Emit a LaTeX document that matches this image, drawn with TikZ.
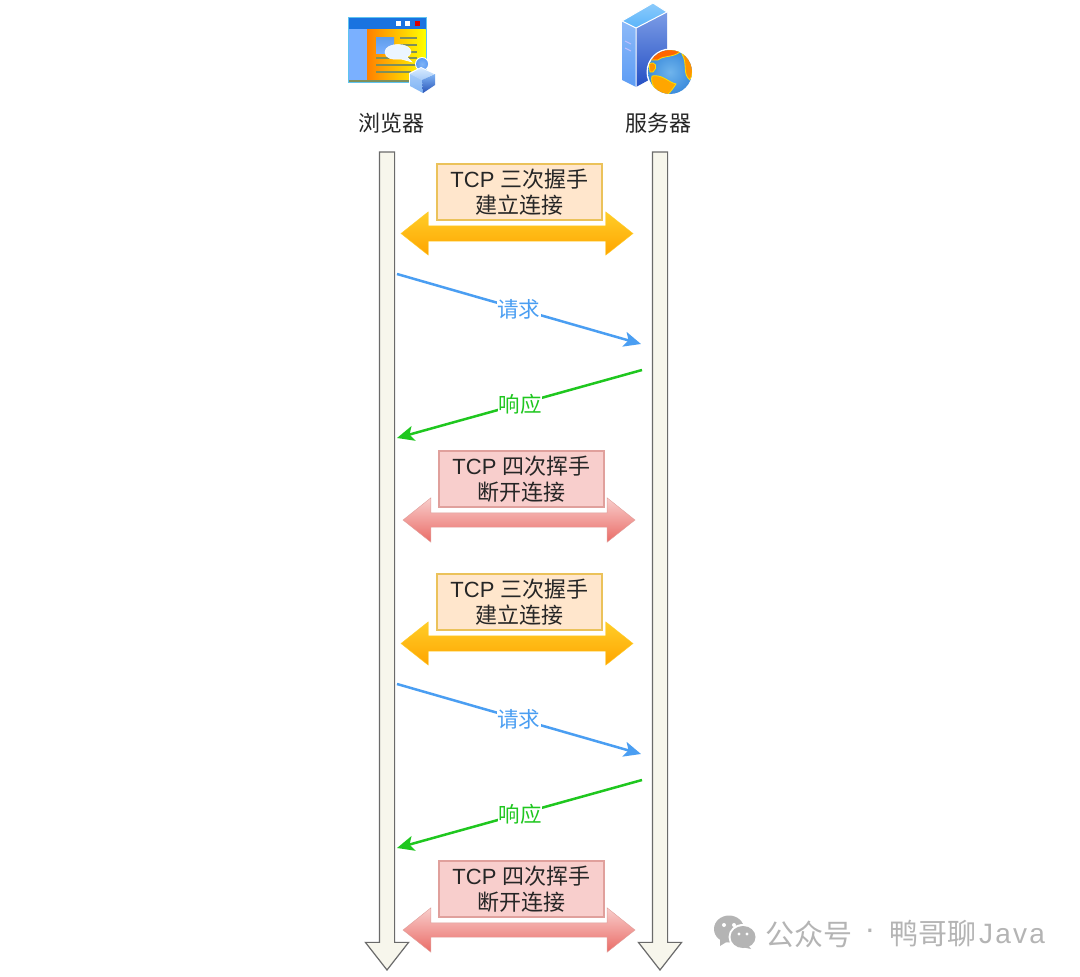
\documentclass[tikz,border=0pt]{standalone}
\usepackage{fontspec}
\setmainfont{Liberation Sans}
\newfontfamily\cjk{Noto Sans CJK SC}
\usetikzlibrary{arrows.meta,shapes.arrows}

\definecolor{lifefill}{HTML}{F7F6EC}
\definecolor{lifeline}{HTML}{6A6A6A}
\definecolor{reqblue}{HTML}{4A9EF2}
\definecolor{respgreen}{HTML}{1FC71F}
\definecolor{openfill}{HTML}{FFE6CC}
\definecolor{opendraw}{HTML}{EBC25A}
\definecolor{opentop}{HTML}{FFCD28}
\definecolor{openbot}{HTML}{FFA500}
\definecolor{closefill}{HTML}{F8CECC}
\definecolor{closedraw}{HTML}{E0A09C}
\definecolor{closebot}{HTML}{EA6B66}
\definecolor{markgray}{HTML}{B4B4B4}
\definecolor{inktext}{HTML}{262626}
\definecolor{iconsky}{HTML}{5FC4F0}
\definecolor{icontitle}{HTML}{1A73E0}
\definecolor{iconpanel}{HTML}{7AB0FF}
\definecolor{iconline}{HTML}{7F8F5A}
\definecolor{cubelight}{HTML}{D6EAFF}
\definecolor{cubemid}{HTML}{7FB4F5}
\definecolor{cubedark}{HTML}{2A55B8}
\definecolor{towertop}{HTML}{5AB4FA}
\definecolor{towerside}{HTML}{5C9CF5}
\definecolor{towerfront}{HTML}{7C9CE6}
\definecolor{towerdeep}{HTML}{2450C4}
\definecolor{globesea}{HTML}{6FB4EC}
\definecolor{globedeep}{HTML}{3C8CDC}

\tikzset{
  lifearrow/.style={single arrow,draw=lifeline,fill=lifefill,line width=1.2pt,shape border rotate=270,
    minimum width=42pt,minimum height=818pt,single arrow head extend=14pt,
    single arrow tip angle=76,inner sep=7pt,outer sep=0pt},
  openarrow/.style={double arrow,draw=opentop,top color=opentop,bottom color=openbot,
    minimum width=43pt,minimum height=232pt,double arrow head extend=14pt,
    double arrow tip angle=77,inner sep=7.5pt,outer sep=0pt},
  closearrow/.style={double arrow,draw=closedraw,top color=closefill,bottom color=closebot,
    minimum width=44pt,minimum height=232pt,double arrow head extend=15pt,
    double arrow tip angle=77,inner sep=7pt,outer sep=0pt},
  openbox/.style={draw=opendraw,fill=openfill,line width=1.5pt,minimum width=165pt,minimum height=56pt,
    align=center,inner sep=0pt,text=inktext,font=\fontsize{22}{26}\selectfont},
  closebox/.style={draw=closedraw,fill=closefill,line width=1.5pt,minimum width=165pt,minimum height=56pt,
    align=center,inner sep=0pt,text=inktext,font=\fontsize{22}{26}\selectfont},
  reqline/.style={-{Stealth[length=17pt,width=15pt,inset=4pt]},draw=reqblue,line width=2.5pt},
  respline/.style={-{Stealth[length=17pt,width=15pt,inset=4pt]},draw=respgreen,line width=2.5pt},
  reqlabel/.style={fill=white,text=reqblue,inner sep=0.5pt,font=\fontsize{21.5}{24}\selectfont\cjk},
  resplabel/.style={fill=white,text=respgreen,inner sep=0.5pt,font=\fontsize{21.5}{24}\selectfont\cjk},
  sidelabel/.style={text=inktext,font=\fontsize{22}{26}\selectfont\cjk}
}

\begin{document}
\begin{tikzpicture}[x=1pt,y=-1pt]
  \useasboundingbox[fill=white] (0,0) rectangle (1080,977);

  % browser icon
  \fill[iconsky] (347.5,16.5) rectangle (426.5,83);
  \fill[icontitle] (348.5,17.5) rectangle (425.5,29);
  \fill[white] (395.5,20.5) rectangle (400.5,25.5);
  \fill[white] (405,20.5) rectangle (410,25.5);
  \fill[red!85!black] (414.5,20.5) rectangle (419.5,25.5);
  \fill[iconpanel] (348.5,29) rectangle (367,80);
  \shade[left color=orange,right color=yellow] (367,29) rectangle (425.5,80);
  \fill[iconline] (348.5,80) rectangle (425.5,82);
  \shade[top color=icontitle!70,bottom color=iconpanel] (376,37) rectangle (394,53);
  \draw[iconline,line width=1.3pt]
    (400,38) -- (417,38) (400,45) -- (417,45) (404,52) -- (417,52)
    (376,58) -- (417,58) (376,65) -- (417,65) (376,72) -- (411,72);
  \fill[cubelight!50!white,draw=white,line width=0.5pt] (385,52) .. controls (385,42) and (411,42) .. (411,52)
    .. controls (411,54) and (409,56) .. (407,57) -- (412,62) -- (401,59)
    .. controls (391,60) and (385,58) .. (385,52) -- cycle;
  \fill[white] (422,64) circle (7);
  \shade[inner color=cubemid,outer color=towerside] (422,64) circle (6);
  \fill[white] (421,67) -- (436,74) -- (436,86) -- (423,94) -- (409,87) -- (409,73) -- cycle;
  \shade[top color=cubelight,bottom color=cubemid!70] (421,68) -- (434,74) -- (422,80) -- (410,74) -- cycle;
  \shade[top color=cubemid!70,bottom color=cubemid] (410,74) -- (422,80) -- (423,93) -- (410,86) -- cycle;
  \shade[top color=cubemid,bottom color=cubedark] (422,80) -- (435,74) -- (435,85) -- (423,93) -- cycle;

  % server icon
  \shade[top color=towertop!70,bottom color=towertop] (622,21) -- (653,3) -- (667,12) -- (636,28) -- cycle;
  \shade[top color=towerside!70,bottom color=towerside] (622,21) -- (636,28) -- (636,87) -- (622,80) -- cycle;
  \shade[top color=towerfront,bottom color=towerdeep] (636,28) -- (667,12) -- (667,70) -- (636,87) -- cycle;
  \draw[white,line width=1pt] (622,21) -- (653,3) -- (667,12) -- (636,28) -- cycle (636,28) -- (636,87);
  \draw[white!75!blue,line width=1pt] (625,41) -- (631,44) (625,48) -- (631,51);
  \fill[white] (670,72) circle (23.5);
  \shade[inner color=globesea,outer color=globedeep] (670,72) circle (22);
  \begin{scope}
    \clip (670,72) circle (22);
    \fill[orange!80!red,draw=yellow!80!orange,line width=0.8pt] (650,60) .. controls (655,48) and (672,48) .. (680,52)
      .. controls (672,58) and (664,55) .. (658,60) -- cycle;
    \fill[orange!85!yellow,draw=yellow!80!orange,line width=0.8pt] (682,54) .. controls (694,58) and (694,72) .. (690,80)
      .. controls (682,74) and (688,64) .. (682,54) -- cycle;
    \fill[orange!85!yellow,draw=yellow!80!orange,line width=0.8pt] (649,64) .. controls (656,60) and (658,68) .. (653,72) -- (650,72) -- cycle;
    \fill[orange!70!yellow,draw=yellow!80!orange,line width=0.8pt] (652,76) .. controls (662,74) and (668,82) .. (676,84)
      .. controls (672,90) and (668,96) .. (664,96) .. controls (656,92) and (650,84) .. (652,76) -- cycle;
  \end{scope}

  % labels on top
  \node[sidelabel] (browser) at (391.5,123) {浏览器};
  \node[sidelabel] (server) at (658,123) {服务器};

  % time axes
  \node[lifearrow,anchor=tip] (browseraxis) at (387,970) {};
  \node[lifearrow,anchor=tip] (serveraxis) at (660,970) {};

  % first connection
  \node[openbox] (open1) at (519.5,192) {TCP {\cjk 三次握手}\\{\cjk 建立连接}};
  \node[openarrow] (openarrow1) at (517,233.5) {};
  \coordinate (req1a) at (397,274);
  \coordinate (req1b) at (641,344);
  \draw[reqline] (req1a) -- (req1b);
  \node[reqlabel] (req1) at (518.5,309) {请求};
  \coordinate (resp1a) at (642,370);
  \coordinate (resp1b) at (397,438);
  \draw[respline] (resp1a) -- (resp1b);
  \node[resplabel] (resp1) at (520,404) {响应};
  \node[closebox] (close1) at (521.5,479) {TCP {\cjk 四次挥手}\\{\cjk 断开连接}};
  \node[closearrow] (closearrow1) at (519,520) {};

  % second connection
  \node[openbox] (open2) at (519.5,602) {TCP {\cjk 三次握手}\\{\cjk 建立连接}};
  \node[openarrow] (openarrow2) at (517,643.5) {};
  \coordinate (req2a) at (397,684);
  \coordinate (req2b) at (641,754);
  \draw[reqline] (req2a) -- (req2b);
  \node[reqlabel] (req2) at (518.5,719) {请求};
  \coordinate (resp2a) at (642,780);
  \coordinate (resp2b) at (397,848);
  \draw[respline] (resp2a) -- (resp2b);
  \node[resplabel] (resp2) at (520,814) {响应};
  \node[closebox] (close2) at (521.5,889) {TCP {\cjk 四次挥手}\\{\cjk 断开连接}};
  \node[closearrow] (closearrow2) at (519,930) {};

  % watermark
  \fill[markgray] (729,929) ellipse (15 and 13.5);
  \fill[markgray] (720,939) -- (720,946) -- (728,941) -- cycle;
  \fill[white] (743,937) ellipse (14.5 and 13);
  \fill[markgray] (743,937) ellipse (12.5 and 11);
  \fill[markgray] (748,945) -- (751,949) -- (742,947) -- cycle;
  \fill[white] (724,925) circle (2) (734,925) circle (2) (739,934) circle (1.7) (747,934) circle (1.7);
  \node[text=markgray,inner sep=0pt,anchor=west,font=\fontsize{29}{32}\selectfont\cjk] (mark) at (765,934) {公众号};
  \node[text=markgray,inner sep=0pt,font=\fontsize{32}{32}\selectfont] (markdot) at (870,934) {·};
  \node[text=markgray,inner sep=0pt,anchor=west,font=\fontsize{29}{32}\selectfont\cjk] (markname) at (889,934) {鸭哥聊};
  \node[text=markgray,inner sep=0pt,anchor=west,font=\fontsize{28}{32}\selectfont\addfontfeatures{LetterSpace=8}] (markjava) at (979,934) {Java};
\end{tikzpicture}
\end{document}
